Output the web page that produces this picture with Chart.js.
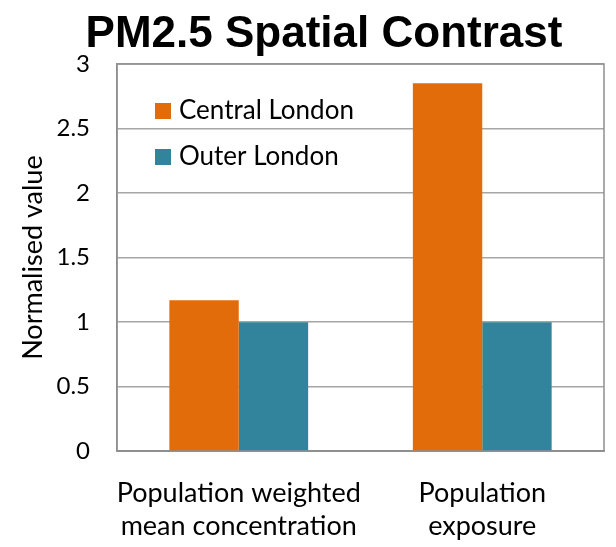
<!DOCTYPE html>
<html><head><meta charset="utf-8">
<script src="https://cdn.jsdelivr.net/npm/chart.js@4"></script>
<style>html,body{margin:0;padding:0;background:#fff}#wrap{width:616px;height:547px}</style>
</head><body><div id="wrap"><canvas id="c" width="616" height="547"></canvas></div>
<script>
const titleText = "PM2.5 Spatial Contrast";
const categories = [["Population weighted","mean concentration"],["Population","exposure"]];
const seriesNames = ["Central London","Outer London"];
const centralValues = [1.17, 2.85];
const outerValues = [1.0, 1.0];
const yTicks = [0, 0.5, 1, 1.5, 2, 2.5, 3];
const colors = ["#E36C0A", "#31849B"];
const FONT = "Lato, 'Open Sans', sans-serif";

const boxPlugin = {
  id: 'box',
  afterDatasetsDraw(chart) {
    const a = chart.chartArea, ctx = chart.ctx;
    ctx.save();
    ctx.strokeStyle = '#8f8f8f'; ctx.lineWidth = 1.5;
    ctx.strokeRect(a.left, a.top, a.right - a.left, a.bottom - a.top);
    // legend inside plot
    ctx.font = "26px " + FONT;
    ctx.textBaseline = 'middle';
    chart.data.datasets.forEach((ds, i) => {
      const y = a.top + 47 + i * 46;
      ctx.fillStyle = ds.backgroundColor;
      ctx.fillRect(a.left + 38, y - 8, 16, 16);
      ctx.fillStyle = '#000';
      ctx.fillText(ds.label, a.left + 62, y);
    });
    // title
    ctx.font = "bold 44px 'Liberation Sans', Arial, sans-serif";
    ctx.textAlign = 'center';
    ctx.textBaseline = 'alphabetic';
    ctx.fillText(titleText, 324, 47);
    ctx.restore();
  }
};

new Chart(document.getElementById('c'), {
  type: 'bar',
  data: {
    labels: categories,
    datasets: [
      {label: seriesNames[0], data: centralValues, backgroundColor: colors[0]},
      {label: seriesNames[1], data: outerValues, backgroundColor: colors[1]}
    ]
  },
  plugins: [boxPlugin],
  options: {
    responsive: false,
    animation: false,
    layout: {padding: {left: 17, right: 12, top: 64, bottom: 5}},
    plugins: {
      legend: {display: false},
      tooltip: {enabled: false},
      title: {display: false}
    },
    datasets: {bar: {categoryPercentage: 0.57, barPercentage: 1.0}},
    scales: {
      x: {
        afterFit(axis) { axis.height -= 26; axis.paddingLeft = 0; axis.paddingRight = 0; },
        grid: {display: false, drawTicks: false},
        border: {display: true, color: '#8f8f8f', width: 1.5},
        ticks: {color: '#000', font: {family: FONT, size: 27}, padding: 26, autoSkip: false, maxRotation: 0}
      },
      y: {
        min: 0, max: 3,
        afterFit(axis) { axis.width = 100; },
        afterBuildTicks(axis) { axis.ticks = yTicks.map(v => ({value: v})); },
        grid: {color: '#a6a6a6', lineWidth: 1.5, drawTicks: false},
        border: {display: true, color: '#8f8f8f', width: 1.5},
        ticks: {color: '#000', font: {family: FONT, size: 24}, padding: 27, callback: v => String(v)},
        title: {display: true, text: "Normalised value", color: '#000', font: {family: FONT, size: 27}, padding: {top: 0, bottom: 0}}
      }
    }
  }
});
</script></body></html>
